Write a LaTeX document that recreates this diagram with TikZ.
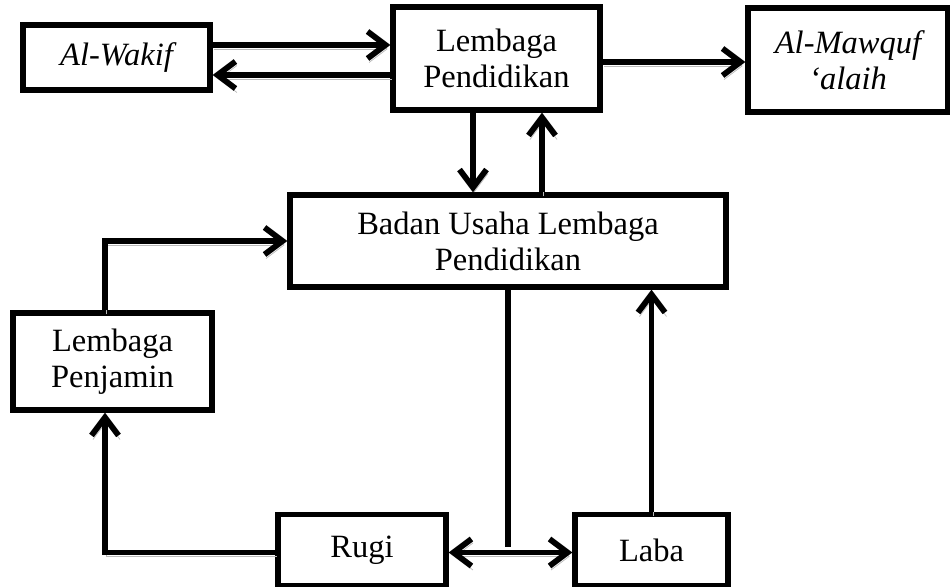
\documentclass[tikz,border=0pt]{standalone}
\usepackage{fontspec}
\setmainfont{Liberation Serif}
\usepackage{tikz}
\usetikzlibrary{arrows.meta}

\tikzset{
  box/.style={draw, line width=3pt, align=center, inner sep=0pt,
    font=\fontsize{18.5}{20.5}\selectfont},
  flow/.style={line width=3.3pt, -{Straight Barb[length=3.6mm,width=5.4mm]},
    preaction={draw=gray!55, transform canvas={shift={(0.3mm,-0.8mm)}}}},
  twoway/.style={flow, {Straight Barb[length=3.6mm,width=5.4mm]}-{Straight Barb[length=3.6mm,width=5.4mm]}},
  plain/.style={line width=3.3pt}
}

\begin{document}
\begin{tikzpicture}
\useasboundingbox (0,0) rectangle (19,11.72);
\node[box, minimum width=3.74cm, minimum height=1.3cm, font=\fontsize{18.5}{20.5}\selectfont\itshape] (wakif) at (2.33,10.57) {Al-Wakif};
\node[box, minimum width=4.14cm, minimum height=2.06cm] (lembaga) at (9.93,10.55) {Lembaga\\Pendidikan};
\node[box, minimum width=4.0cm, minimum height=2.08cm, font=\fontsize{18.5}{20.5}\selectfont\itshape] (mawquf) at (16.96,10.52) {Al-Mawquf\\‘alaih};
\node[box, minimum width=8.72cm, minimum height=1.84cm] (badan) at (10.16,6.9) {Badan Usaha Lembaga\\Pendidikan};
\node[box, minimum width=3.98cm, minimum height=1.94cm] (penjamin) at (2.25,4.49) {Lembaga\\Penjamin};
\node[box, minimum width=3.36cm, minimum height=1.42cm] (rugi) at (7.24,0.72) {Rugi};
\node[box, minimum width=3.06cm, minimum height=1.42cm] (laba) at (13.03,0.72) {Laba};
% top row
\draw[flow] ([yshift=2.5mm]wakif.east) -- ([yshift=2.5mm]wakif.east -| lembaga.west);
\draw[flow] ([yshift=-3.5mm]wakif.east -| lembaga.west) -- ([yshift=-3.5mm]wakif.east);
\draw[flow] ([yshift=-0.7mm]lembaga.east) -- ([yshift=-0.7mm]lembaga.east -| mawquf.west);
% lembaga <-> badan usaha
\draw[flow] ([xshift=-4.7mm]lembaga.south) -- ([xshift=-4.7mm]lembaga.south |- badan.north);
\draw[flow] ([xshift=9.1mm]lembaga.south |- badan.north) -- ([xshift=9.1mm]lembaga.south);
% penjamin
\draw[flow] ([xshift=-1.5mm]penjamin.north) |- (badan.west);
\draw[flow] ([yshift=-0.5mm]rugi.west) -| ([xshift=-1.5mm]penjamin.south);
% rugi / laba
\draw[plain] (badan.south) -- ([yshift=0.6mm]badan.south |- rugi.east);
\draw[twoway] ([yshift=-0.5mm]rugi.east) -- ([yshift=-0.5mm]laba.west);
\draw[flow] (laba.north) -- (laba.north |- badan.south);
\end{tikzpicture}
\end{document}
